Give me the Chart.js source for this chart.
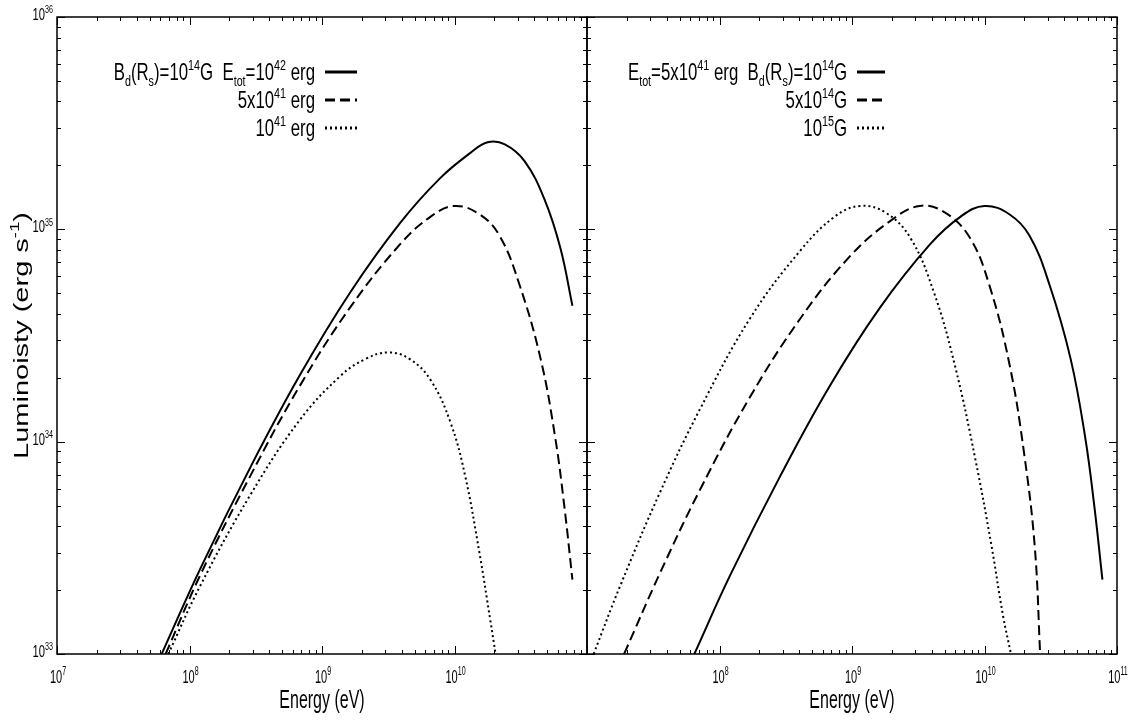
<!DOCTYPE html>
<html>
<head>
<meta charset="utf-8">
<script src="https://cdn.jsdelivr.net/npm/chart.js@4/dist/chart.umd.min.js"></script>
<style>
  body { margin: 0; background: #fff; }
  #wrap { position: relative; width: 1130px; height: 723px; background: #fff; }
  canvas { position: absolute; top: 0; }
  #left { left: 0; }
  #right { left: 577px; }
</style>
</head>
<body>
<div id="wrap">
  <canvas id="left" width="590" height="723"></canvas>
  <canvas id="right" width="553" height="723"></canvas>
</div>
<script>
// values, as log10(E / eV) and log10(L / erg s^-1)
// left panel: B_d(R_s) = 1e14 G, different E_tot
const leftSolidLogE  = [7.79, 8.08, 8.46, 8.83, 9.21, 9.59, 9.89, 10.12, 10.25, 10.38, 10.53, 10.68, 10.80, 10.89];
const leftSolidLogL  = [33.00, 33.40, 33.88, 34.31, 34.70, 35.03, 35.24, 35.36, 35.41, 35.40, 35.32, 35.14, 34.91, 34.64];
const leftDashLogE   = [7.82, 8.08, 8.46, 8.83, 9.21, 9.59, 9.82, 10.00, 10.19, 10.34, 10.49, 10.65, 10.76, 10.83, 10.89];
const leftDashLogL   = [33.00, 33.37, 33.84, 34.26, 34.63, 34.93, 35.06, 35.11, 35.07, 34.97, 34.74, 34.39, 34.02, 33.69, 33.35];
const leftDotLogE    = [7.84, 8.08, 8.46, 8.83, 9.14, 9.33, 9.50, 9.66, 9.82, 9.97, 10.08, 10.19, 10.27, 10.31];
const leftDotLogL    = [33.00, 33.32, 33.75, 34.10, 34.31, 34.39, 34.42, 34.39, 34.29, 34.09, 33.84, 33.47, 33.16, 33.00];

// right panel: E_tot = 5e41 erg, different B_d(R_s)
const rightSolidLogE = [7.81, 8.08, 8.46, 8.83, 9.21, 9.59, 9.82, 10.00, 10.19, 10.34, 10.49, 10.65, 10.76, 10.83, 10.89];
const rightSolidLogL = [33.00, 33.37, 33.84, 34.26, 34.63, 34.93, 35.06, 35.11, 35.07, 34.97, 34.74, 34.39, 34.02, 33.69, 33.35];
const rightDashLogE  = [7.28, 7.55, 7.85, 8.23, 8.61, 8.98, 9.29, 9.51, 9.70, 9.89, 10.04, 10.19, 10.30, 10.38, 10.42];
const rightDashLogL  = [33.00, 33.38, 33.77, 34.21, 34.58, 34.87, 35.04, 35.11, 35.08, 34.96, 34.73, 34.36, 33.94, 33.50, 33.00];
const rightDotLogE   = [7.05, 7.25, 7.55, 7.85, 8.23, 8.61, 8.87, 9.06, 9.25, 9.44, 9.62, 9.78, 9.93, 10.05, 10.14, 10.20];
const rightDotLogL   = [33.00, 33.32, 33.76, 34.15, 34.58, 34.90, 35.06, 35.11, 35.08, 34.96, 34.70, 34.35, 33.92, 33.52, 33.18, 33.00];

const xTickPowers = [7, 8, 9, 10, 11];
const yTickPowers = [33, 34, 35, 36];
const leftXLabelPowers = [7, 8, 9, 10];
const rightXLabelPowers = [8, 9, 10, 11];

const xTitle = [['Energy (eV)', '']];
const yTitle = [['Luminoisty (erg s', ''], ['-1', 'sup'], [')', '']];

const leftLegend = [
  [['B', ''], ['d', 'sub'], ['(R', ''], ['s', 'sub'], [')=10', ''], ['14', 'sup'], ['G  E', ''], ['tot', 'sub'], ['=10', ''], ['42', 'sup'], [' erg', '']],
  [['5x10', ''], ['41', 'sup'], [' erg', '']],
  [['10', ''], ['41', 'sup'], [' erg', '']]
];
const rightLegend = [
  [['E', ''], ['tot', 'sub'], ['=5x10', ''], ['41', 'sup'], [' erg  B', ''], ['d', 'sub'], ['(R', ''], ['s', 'sub'], [')=10', ''], ['14', 'sup'], ['G', '']],
  [['5x10', ''], ['14', 'sup'], ['G', '']],
  [['10', ''], ['15', 'sup'], ['G', '']]
];

const FONT = '"Liberation Sans", Arial, sans-serif';

function pts(logE, logL) {
  return logE.map((e, i) => ({ x: Math.pow(10, e), y: Math.pow(10, logL[i]) }));
}

function ds(logE, logL, dash) {
  return {
    data: pts(logE, logL),
    borderColor: '#000',
    borderWidth: 2,
    borderDash: dash,
    pointRadius: 0,
    fill: false,
    tension: 0.4
  };
}

// text made of normal / sub / sup pieces, squeezed horizontally by sx
function richWidth(ctx, segs, size, sx) {
  let w = 0;
  for (const [t, k] of segs) {
    ctx.font = (k ? size * 0.64 : size) + 'px ' + FONT;
    w += ctx.measureText(t).width * sx;
  }
  return w;
}
function drawRich(ctx, segs, x, y, size, sx, align) {
  const total = richWidth(ctx, segs, size, sx);
  let cx = align === 'right' ? x - total : align === 'center' ? x - total / 2 : x;
  for (const [t, k] of segs) {
    const fs = k ? size * 0.64 : size;
    ctx.font = fs + 'px ' + FONT;
    const dy = k === 'sup' ? -size * 0.42 : k === 'sub' ? size * 0.24 : 0;
    ctx.save();
    ctx.translate(cx, y + dy);
    ctx.scale(sx, 1);
    ctx.fillText(t, 0, 0);
    ctx.restore();
    cx += ctx.measureText(t).width * sx;
  }
}

const framePlugin = {
  id: 'frame',
  afterDraw(chart, args, o) {
    const ctx = chart.ctx;
    const a = chart.chartArea;
    const x = chart.scales.x, y = chart.scales.y;
    ctx.save();
    ctx.strokeStyle = '#000';
    ctx.fillStyle = '#000';
    ctx.lineWidth = 1.5;
    ctx.strokeRect(a.left, a.top, a.right - a.left, a.bottom - a.top);

    ctx.lineWidth = 1;
    ctx.beginPath();
    // x ticks, inward on bottom and top
    for (const p of xTickPowers) {
      for (let m = 1; m <= 9; m++) {
        const v = m * Math.pow(10, p);
        if (v > x.max * 1.0001) break;
        const px = Math.round(x.getPixelForValue(v)) + 0.5;
        const len = m === 1 ? 8 : 4;
        ctx.moveTo(px, a.bottom); ctx.lineTo(px, a.bottom - len);
        ctx.moveTo(px, a.top); ctx.lineTo(px, a.top + len);
      }
    }
    // y ticks, inward on left and right
    for (const p of yTickPowers) {
      for (let m = 1; m <= 9; m++) {
        const v = m * Math.pow(10, p);
        if (v > y.max * 1.0001) break;
        const py = Math.round(y.getPixelForValue(v)) + 0.5;
        const len = m === 1 ? 8 : 4;
        ctx.moveTo(a.left, py); ctx.lineTo(a.left + len, py);
        ctx.moveTo(a.right, py); ctx.lineTo(a.right - len, py);
      }
    }
    ctx.stroke();

    // x tick labels, whole label centred on its tick
    ctx.textBaseline = 'alphabetic';
    for (const p of o.xLabels) {
      const px = x.getPixelForValue(Math.pow(10, p));
      drawRich(ctx, [['10', ''], [String(p), 'sup']], px + 1, a.bottom + 29, 19, 0.58, 'center');
    }
    // y tick labels and title
    if (o.yLabels) {
      for (const p of yTickPowers) {
        const py = y.getPixelForValue(Math.pow(10, p));
        drawRich(ctx, [['10', ''], [String(p), 'sup']], a.left - 4, py + 3, 16, 0.7, 'right');
      }
      ctx.save();
      ctx.translate(28, (a.top + a.bottom) / 2);
      ctx.rotate(-Math.PI / 2);
      ctx.scale(1, 0.72);
      drawRich(ctx, yTitle, 0, 0, 29, 1, 'center');
      ctx.restore();
    }
    // x title
    drawRich(ctx, xTitle, (a.left + a.right) / 2, 708, 25, 0.64, 'center');

    // legend, sample lines take the dataset styles
    o.legend.forEach((segs, i) => {
      const cy = o.legendTop + i * 28;
      drawRich(ctx, segs, o.legendTextRight, cy + 8, 24, 0.70, 'right');
      const d = chart.data.datasets[i];
      ctx.save();
      ctx.lineWidth = 3;
      ctx.setLineDash(d.borderDash || []);
      ctx.beginPath();
      ctx.moveTo(o.legendTextRight + 10, cy);
      ctx.lineTo(o.legendTextRight + 10 + o.sampleLen, cy);
      ctx.stroke();
      ctx.restore();
    });
    ctx.restore();
  }
};

function makeOptions(yWidth, padRight, frameOpts) {
  return {
    responsive: false,
    animation: false,
    devicePixelRatio: 1,
    layout: { padding: { top: 17, right: padRight, left: 0, bottom: 0 } },
    plugins: { legend: { display: false }, tooltip: { enabled: false }, frame: frameOpts },
    scales: {
      x: {
        type: 'logarithmic', min: 1e7, max: 1e11,
        ticks: { display: false }, grid: { display: false }, border: { display: false },
        afterFit: s => { s.height = 69; }
      },
      y: {
        type: 'logarithmic', min: 1e33, max: 1e36,
        ticks: { display: false }, grid: { display: false }, border: { display: false },
        afterFit: s => { s.width = yWidth; }
      }
    }
  };
}

Chart.register(framePlugin);

new Chart(document.getElementById('left'), {
  type: 'line',
  data: {
    datasets: [
      ds(leftSolidLogE, leftSolidLogL, []),
      ds(leftDashLogE, leftDashLogL, [10, 5]),
      ds(leftDotLogE, leftDotLogL, [2, 3])
    ]
  },
  options: makeOptions(57, 3, {
    xLabels: leftXLabelPowers, yLabels: true,
    legend: leftLegend, legendTop: 72, legendTextRight: 315, sampleLen: 32
  })
});

new Chart(document.getElementById('right'), {
  type: 'line',
  data: {
    datasets: [
      ds(rightSolidLogE, rightSolidLogL, []),
      ds(rightDashLogE, rightDashLogL, [10, 5]),
      ds(rightDotLogE, rightDotLogL, [2, 3])
    ]
  },
  options: makeOptions(10, 13, {
    xLabels: rightXLabelPowers, yLabels: false,
    legend: rightLegend, legendTop: 72, legendTextRight: 270, sampleLen: 28
  })
});
</script>
</body>
</html>
